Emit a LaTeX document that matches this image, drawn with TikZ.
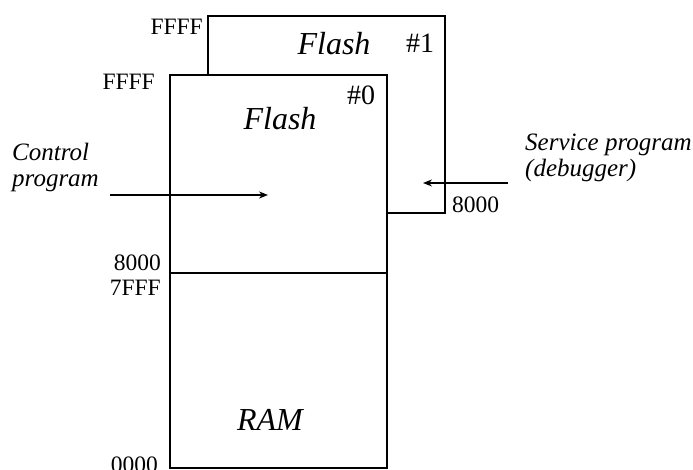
\documentclass[tikz,border=0pt]{standalone}
\usepackage{fontspec}
\setmainfont{Liberation Serif}
\usetikzlibrary{arrows.meta}
\begin{document}
\begin{tikzpicture}[x=1pt,y=-1pt,
  boxline/.style={line width=2.8pt,line join=miter},
  backline/.style={line width=2.4pt,line join=miter},
  addr/.style={inner sep=0pt,font=\fontsize{23.5}{23.5}\selectfont},
  big/.style={inner sep=0pt,font=\fontsize{32}{32}\selectfont\itshape},
  num/.style={inner sep=0pt,font=\fontsize{28}{28}\selectfont},
  lab/.style={inner sep=0pt,font=\fontsize{25}{26}\selectfont\itshape,align=left},
  arr/.style={line width=2pt,-{Stealth[length=9pt,width=7pt]}}]
\useasboundingbox (0,0) rectangle (693,470);
% coordinates
\coordinate (f0tl) at (170,75);
\coordinate (f0tr) at (387,75);
\coordinate (f0bl) at (170,468);
\coordinate (f0br) at (387,468);
\coordinate (f1tl) at (208,16);
\coordinate (f1tr) at (445,16);
\coordinate (f1br) at (445,213);
\coordinate (f1bj) at (387,213);
\coordinate (f1bl) at (208,75);
\coordinate (divl) at (170,273);
\coordinate (divr) at (387,273);
% back box
\draw[backline] (f1bl) -- (f1tl) -- (f1tr) -- (f1br) -- (f1bj);
% front box
\draw[boxline] (f0tl) rectangle (f0br);
\draw[line width=1.8pt] (divl) -- (divr);
% arrows
\coordinate (ca) at (110,195);
\coordinate (cb) at (268,195);
\draw[arr] (ca) -- (cb);
\coordinate (sa) at (508,183);
\coordinate (sb) at (423,183);
\draw[arr] (sa) -- (sb);
% texts
\node[addr,anchor=base east] (t1) at (203,35) {FFFF};
\node[addr,anchor=base east] (t2) at (155,90) {FFFF};
\node[big,anchor=base] (fl1) at (334,55) {Flash};
\node[num,anchor=base] (n1) at (420,53) {\#1};
\node[num,anchor=base] (n0) at (361,105) {\#0};
\node[big,anchor=base] (fl0) at (280,130) {Flash};
\node[lab,anchor=base west] (cp) at (12,187) {Control\\program};
\node[addr,anchor=base east] (a8) at (161,271) {8000};
\node[addr,anchor=base east] (a7) at (161,295) {7FFF};
\node[addr,anchor=base east] (a0) at (158,472) {0000};
\node[big,anchor=base] (ram) at (270,430) {RAM};
\node[lab,anchor=base west] (sp) at (525,177) {Service program\\(debugger)};
\node[addr,anchor=base west] (a8r) at (452,213) {8000};
\end{tikzpicture}
\end{document}
